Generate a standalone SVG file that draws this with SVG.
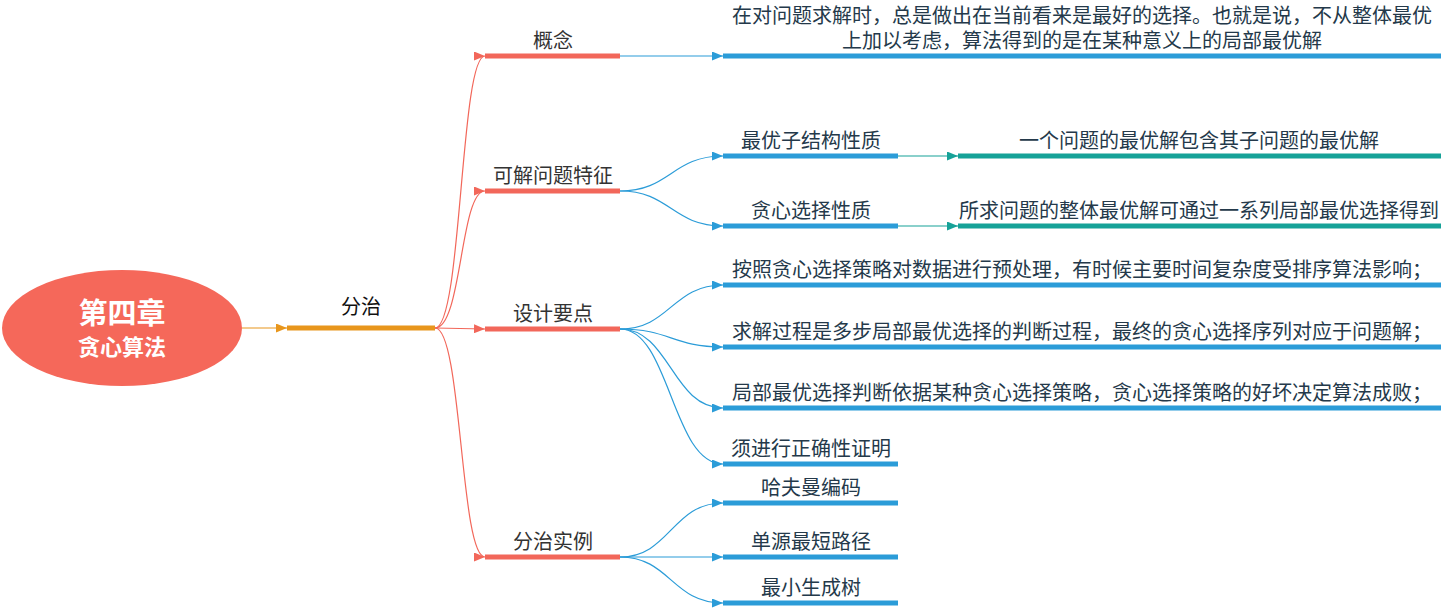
<svg xmlns="http://www.w3.org/2000/svg" width="1450" height="609" viewBox="0 0 1450 609">
<style>
text{font-family:"Noto Sans CJK SC","Noto Sans",sans-serif;text-anchor:middle}
.l2{font-size:20px;fill:#333333}
.l3{font-size:20px;fill:#24394a}
.rb{stroke:#f2675a;stroke-width:5;fill:none}
.bb{stroke:#2b9cd8;stroke-width:5;fill:none}
.tb{stroke:#16a298;stroke-width:5;fill:none}
.rc{stroke:#f2675a;stroke-width:1.2;fill:none;marker-end:url(#ar)}
.bc{stroke:#2b9cd8;stroke-width:1.2;fill:none;marker-end:url(#ab)}
.tc{stroke:#16a298;stroke-width:1.2;fill:none;marker-end:url(#at)}
</style>
<defs>
<marker id="ar" markerUnits="userSpaceOnUse" markerWidth="11" markerHeight="9" refX="11" refY="4.5" orient="auto"><path d="M0,0 L11,4.5 L0,9 z" fill="#f2675a"/></marker>
<marker id="ab" markerUnits="userSpaceOnUse" markerWidth="11" markerHeight="9" refX="11" refY="4.5" orient="auto"><path d="M0,0 L11,4.5 L0,9 z" fill="#2b9cd8"/></marker>
<marker id="at" markerUnits="userSpaceOnUse" markerWidth="11" markerHeight="9" refX="11" refY="4.5" orient="auto"><path d="M0,0 L11,4.5 L0,9 z" fill="#16a298"/></marker>
<marker id="ao" markerUnits="userSpaceOnUse" markerWidth="11" markerHeight="9" refX="11" refY="4.5" orient="auto"><path d="M0,0 L11,4.5 L0,9 z" fill="#e8961c"/></marker>
</defs>
<rect width="1450" height="609" fill="#ffffff"/>
<g id="connectors">
<path d="M242,328 L287,328" stroke="#e8961c" stroke-width="1.2" fill="none" marker-end="url(#ao)"/>
<path class="rc" d="M435,328 C462,328 460,56 485,56"/>
<path class="rc" d="M435,328 C462,328 460,191 485,191"/>
<path class="rc" d="M435,328 L485,329"/>
<path class="rc" d="M435,328 C462,328 460,557 485,557"/>
<path class="bc" d="M620,56 L723,56"/>
<path class="bc" d="M620,191 C670,191 672,156 723,156"/>
<path class="bc" d="M620,191 C670,191 672,226 723,226"/>
<path class="bc" d="M620,329 C670,329 672,285 723,285"/>
<path class="bc" d="M620,329 C670,329 672,347 723,347"/>
<path class="bc" d="M620,329 C670,329 672,408 723,408"/>
<path class="bc" d="M620,329 C670,329 672,464 723,464"/>
<path class="bc" d="M620,557 C670,557 672,503 723,503"/>
<path class="bc" d="M620,557 L723,557"/>
<path class="bc" d="M620,557 C670,557 672,603 723,603"/>
<path class="tc" d="M898,156 L958,156"/>
<path class="tc" d="M898,226 L958,226"/>
</g>
<g id="root">
<ellipse cx="122" cy="328" rx="120" ry="58" fill="#f5685a"/>
<text x="122" y="324" style="font-size:29px;font-weight:bold;fill:#ffffff">第四章</text>
<text x="122" y="355" style="font-size:22px;font-weight:bold;fill:#ffffff">贪心算法</text>
</g>
<g id="n-fenzhi">
<line x1="287" y1="328" x2="435" y2="328" stroke="#e8961c" stroke-width="5"/>
<text x="361" y="314" style="font-size:20px;fill:#111111">分治</text>
</g>
<g id="n-gainian">
<line class="rb" x1="485" y1="56" x2="620" y2="56"/>
<text class="l2" x="553" y="48">概念</text>
</g>
<g id="n-gainian-def">
<line class="bb" x1="723" y1="56" x2="1441" y2="56"/>
<text class="l3" x="1082" y="23">在对问题求解时，总是做出在当前看来是最好的选择。也就是说，不从整体最优</text>
<text class="l3" x="1082" y="48">上加以考虑，算法得到的是在某种意义上的局部最优解</text>
</g>
<g id="n-tezheng">
<line class="rb" x1="485" y1="191" x2="620" y2="191"/>
<text class="l2" x="553" y="183">可解问题特征</text>
</g>
<g id="n-zijiegou">
<line class="bb" x1="723" y1="156" x2="898" y2="156"/>
<text class="l3" x="811" y="148">最优子结构性质</text>
</g>
<g id="n-zijiegou-def">
<line class="tb" x1="958" y1="156" x2="1441" y2="156"/>
<text class="l3" x="1199" y="148">一个问题的最优解包含其子问题的最优解</text>
</g>
<g id="n-tanxin">
<line class="bb" x1="723" y1="226" x2="898" y2="226"/>
<text class="l3" x="811" y="218">贪心选择性质</text>
</g>
<g id="n-tanxin-def">
<line class="tb" x1="958" y1="226" x2="1441" y2="226"/>
<text class="l3" x="1199" y="218">所求问题的整体最优解可通过一系列局部最优选择得到</text>
</g>
<g id="n-sheji">
<line class="rb" x1="485" y1="329" x2="620" y2="329"/>
<text class="l2" x="553" y="321">设计要点</text>
</g>
<g id="n-sheji-1">
<line class="bb" x1="723" y1="285" x2="1441" y2="285"/>
<text class="l3" x="1082" y="277">按照贪心选择策略对数据进行预处理，有时候主要时间复杂度受排序算法影响；</text>
</g>
<g id="n-sheji-2">
<line class="bb" x1="723" y1="347" x2="1441" y2="347"/>
<text class="l3" x="1082" y="339">求解过程是多步局部最优选择的判断过程，最终的贪心选择序列对应于问题解；</text>
</g>
<g id="n-sheji-3">
<line class="bb" x1="723" y1="408" x2="1441" y2="408"/>
<text class="l3" x="1082" y="400">局部最优选择判断依据某种贪心选择策略，贪心选择策略的好坏决定算法成败；</text>
</g>
<g id="n-sheji-4">
<line class="bb" x1="723" y1="464" x2="898" y2="464"/>
<text class="l3" x="811" y="456">须进行正确性证明</text>
</g>
<g id="n-shili">
<line class="rb" x1="485" y1="557" x2="620" y2="557"/>
<text class="l2" x="553" y="549">分治实例</text>
</g>
<g id="n-huffman">
<line class="bb" x1="723" y1="503" x2="898" y2="503"/>
<text class="l3" x="811" y="495">哈夫曼编码</text>
</g>
<g id="n-dijkstra">
<line class="bb" x1="723" y1="557" x2="898" y2="557"/>
<text class="l3" x="811" y="549">单源最短路径</text>
</g>
<g id="n-mst">
<line class="bb" x1="723" y1="603" x2="898" y2="603"/>
<text class="l3" x="811" y="595">最小生成树</text>
</g>
</svg>
